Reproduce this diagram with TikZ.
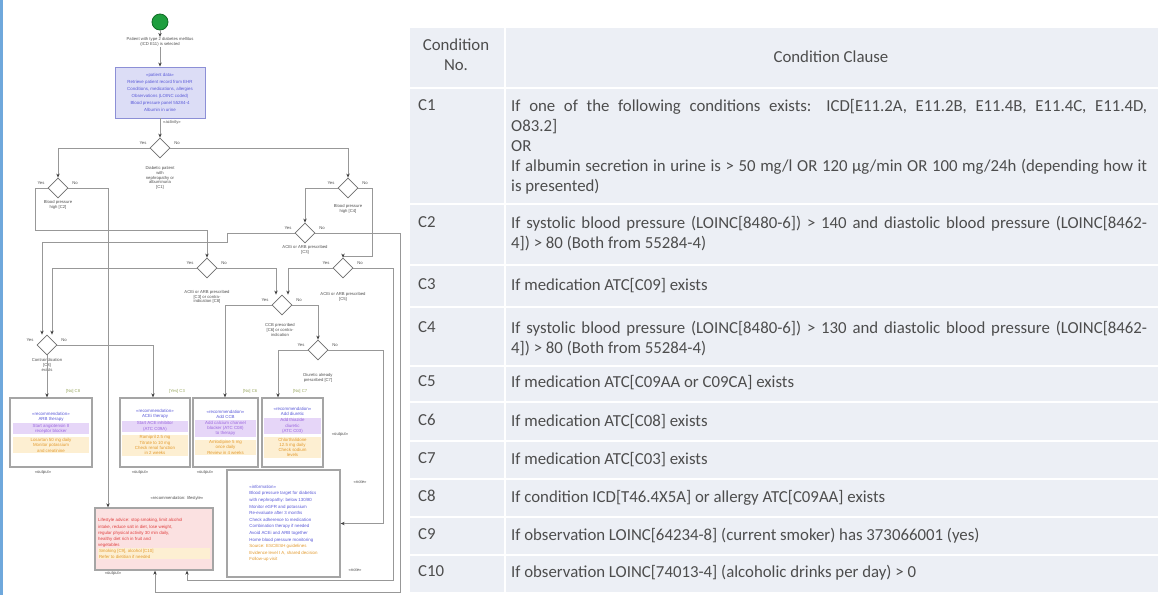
\documentclass[tikz,border=0pt]{standalone}
\usepackage{fontspec}
\setmainfont{Carlito}
\newfontfamily\flowfont{Liberation Sans}
\usetikzlibrary{shapes.geometric,arrows.meta}

\definecolor{tablebg}{HTML}{ECEFF5}
\definecolor{tabtext}{HTML}{4D4D4D}
\definecolor{edgeblue}{HTML}{6FA8DC}
\definecolor{wirec}{HTML}{989898}
\definecolor{decdraw}{HTML}{6E6E6E}
\definecolor{flowtext}{HTML}{505050}
\definecolor{startgreen}{HTML}{1E9E3E}
\definecolor{startrim}{HTML}{0F6B25}
\definecolor{patfill}{HTML}{DCDDF6}
\definecolor{patdraw}{HTML}{8C8FD6}
\definecolor{recblue}{HTML}{5A5AD8}
\definecolor{recpurple}{HTML}{9A66DE}
\definecolor{lavband}{HTML}{E6D6F8}
\definecolor{recorange}{HTML}{E39A2E}
\definecolor{yelband}{HTML}{FDEFD2}
\definecolor{boxdraw}{HTML}{A5A5A5}
\definecolor{redtext}{HTML}{E04040}
\definecolor{pinkfill}{HTML}{FBE1E1}
\definecolor{guardc}{HTML}{9AA860}

\setlength{\fboxsep}{0.8pt}
% body of a recommendation box: band width, title, purple lines, orange lines
\newcommand\recbody[4]{%
  \textcolor{recblue}{«recommendation»}\\
  \textcolor{recblue}{#2}\\[1pt]
  \colorbox{lavband}{\parbox{#1}{\centering\color{recpurple}#3}}\\[2pt]
  \colorbox{yelband}{\parbox{#1}{\centering\color{recorange}#4}}}

\begin{document}
\begin{tikzpicture}[x=1pt,y=-1pt,
  wire/.style={draw=wirec, line width=0.8pt},
  arr/.style={wire, -{Stealth[length=4pt,width=3.4pt,color=black!75]}},
  dec/.style={diamond, draw=decdraw, fill=white, line width=0.8pt,
    minimum width=20pt, minimum height=20pt, inner sep=0pt},
  ftext/.style={font=\flowfont\fontsize{4.2}{4.9}\selectfont, text=flowtext,
    align=center, inner sep=0.5pt},
  guard/.style={ftext, text=guardc},
  recbox/.style={draw=boxdraw, line width=1.3pt, fill=white, inner sep=1.5pt,
    align=center, font=\flowfont\fontsize{4.4}{5.3}\selectfont},
  tabcell/.style={font=\fontsize{16.8}{20}\selectfont, text=tabtext,
    inner sep=0pt, anchor=north west, align=left},
  tabhead/.style={font=\fontsize{16.8}{20}\selectfont, text=tabtext,
    inner sep=0pt, align=center},
  rowrule/.style={draw=white, line width=1.2pt}]

\useasboundingbox (0,0) rectangle (1161,595);
\fill[white] (0,0) rectangle (1161,595);
\fill[edgeblue] (0,0) rectangle (2.5,595);

% ---------------- condition table ----------------
\fill[tablebg] (410,28) rectangle (1158,592);
\foreach \yy in {88,204,265,307,366,402,441,479,517,555}
  \draw[rowrule] (410,\yy) -- (1158,\yy);
\draw[rowrule] (505,28) -- (505,592);

\node[tabhead] (hno) at (456,55) {Condition\\No.};
\node[tabhead] (hclause) at (831,57) {Condition Clause};

\node[tabcell] (c1no) at (418,99) {C1};
\node[tabcell] (c1tx) at (511,99)
 {\makebox[636pt][s]{If one of the following conditions exists: ICD[E11.2A, E11.2B, E11.4B, E11.4C, E11.4D,}\\
  O83.2]\\
  OR\\
  \makebox[636pt][s]{If albumin secretion in urine is > 50 mg/l OR 120 µg/min OR 100 mg/24h (depending how it}\\
  is presented)};

\node[tabcell] (c2no) at (418,216) {C2};
\node[tabcell] (c2tx) at (511,216)
 {\makebox[636pt][s]{If systolic blood pressure (LOINC[8480-6]) > 140 and diastolic blood pressure (LOINC[8462-}\\
  4]) > 80 (Both from 55284-4)};

\node[tabcell] (c3no) at (418,278) {C3};
\node[tabcell] (c3tx) at (511,278) {If medication ATC[C09] exists};

\node[tabcell] (c4no) at (418,321) {C4};
\node[tabcell] (c4tx) at (511,321)
 {\makebox[636pt][s]{If systolic blood pressure (LOINC[8480-6]) > 130 and diastolic blood pressure (LOINC[8462-}\\
  4]) > 80 (Both from 55284-4)};

\node[tabcell] (c5no) at (418,375) {C5};
\node[tabcell] (c5tx) at (511,375) {If medication ATC[C09AA or C09CA] exists};

\node[tabcell] (c6no) at (418,414) {C6};
\node[tabcell] (c6tx) at (511,414) {If medication ATC[C08] exists};

\node[tabcell] (c7no) at (418,452) {C7};
\node[tabcell] (c7tx) at (511,452) {If medication ATC[C03] exists};

\node[tabcell] (c8no) at (418,490) {C8};
\node[tabcell] (c8tx) at (511,490) {If condition ICD[T46.4X5A] or allergy ATC[C09AA] exists};

\node[tabcell] (c9no) at (418,528) {C9};
\node[tabcell] (c9tx) at (511,528) {If observation LOINC[64234-8] (current smoker) has 373066001 (yes)};

\node[tabcell] (c10no) at (418,565) {C10};
\node[tabcell] (c10tx) at (511,565) {If observation LOINC[74013-4] (alcoholic drinks per day) > 0};

% ---------------- activity flow ----------------
\node[circle, fill=startgreen, draw=startrim, line width=0.8pt, minimum size=16pt, inner sep=0pt] (start) at (160,22) {};
\node[ftext] (startlbl) at (160,42) {Patient with type 2 diabetes mellitus\\(ICD E11) is selected};

\node[draw=patdraw, fill=patfill, line width=0.9pt, minimum width=90pt, minimum height=51pt,
      align=center, inner sep=1pt, font=\flowfont\fontsize{4.4}{6.9}\selectfont, text=recblue] (pat) at (160,92.5)
 {«patient data»\\Retrieve patient record from EHR\\Conditions, medications, allergies\\Observations (LOINC coded)\\Blood pressure panel 55284-4\\Albumin in urine};
\node[ftext] (patlbl) at (172,122) {«activity»};

% decisions
\node[dec] (d1) at (160,148) {};
\node[dec] (d2) at (58,188) {};
\node[dec] (d3) at (348,188) {};
\node[dec] (d4) at (305,233) {};
\node[dec] (d5) at (343,268) {};
\node[dec] (d6) at (207,268) {};
\node[dec] (d7) at (282,305) {};
\node[dec] (d8) at (318,350) {};
\node[dec] (d9) at (47,345) {};

\node[ftext] (d1cap) at (160,178) {Diabetic patient\\with\\nephropathy or\\albuminuria\\{}[C1]};
\node[ftext] (d2cap) at (58,205) {Blood pressure\\high [C2]};
\node[ftext] (d3cap) at (348,209) {Blood pressure\\high [C4]};
\node[ftext] (d4cap) at (305,250) {ACEi or ARB prescribed\\{}[C3]};
\node[ftext] (d5cap) at (343,297) {ACEi or ARB prescribed\\{}[C5]};
\node[ftext] (d6cap) at (207,297) {ACEi or ARB prescribed\\{}[C3] or contra-\\indication [C8]};
\node[ftext] (d7cap) at (280,330) {CCB prescribed\\{}[C6] or contra-\\indication};
\node[ftext] (d8cap) at (318,378) {Diuretic already\\prescribed [C7]};
\node[ftext] (d9cap) at (47,365) {Contraindication\\{}[C8]\\exists};

% branch labels
\foreach \d in {d1,d2,d3,d4,d5,d6,d7,d8,d9}{
  \node[ftext] (\d yes) at ([xshift=-17pt,yshift=5pt]\d.center) {Yes};
  \node[ftext] (\d no) at ([xshift=17pt,yshift=5pt]\d.center) {No};
}

% recommendation boxes
\node[recbox, minimum width=82pt, minimum height=69pt] (r1) at (51,432.5)
 {\recbody{75pt}{ARB therapy}{Start angiotensin II\\receptor blocker}{Losartan 50 mg daily\\Monitor potassium\\and creatinine}};
\node[recbox, minimum width=70pt, minimum height=69pt] (r2) at (155,432.5)
 {\recbody{64pt}{ACEi therapy}{Start ACE inhibitor\\(ATC C09A)}{Ramipril 2.5 mg\\Titrate to 10 mg\\Check renal function\\in 2 weeks}};
\node[recbox, minimum width=65pt, minimum height=69pt] (r3) at (225.5,432.5)
 {\recbody{59pt}{Add CCB}{Add calcium channel\\blocker (ATC C08)\\to therapy}{Amlodipine 5 mg\\once daily\\Review in 4 weeks}};
\node[recbox, minimum width=61pt, minimum height=69pt] (r4) at (292.5,432.5)
 {\recbody{55pt}{Add diuretic}{Add thiazide\\diuretic\\(ATC C03)}{Chlorthalidone\\12.5 mg daily\\Check sodium\\levels}};

\node[guard] (g1) at (73,391) {[No] C8};
\node[guard] (g2) at (177,391) {[Yes] C3};
\node[guard] (g3) at (250,391) {[No] C6};
\node[guard] (g4) at (300,391) {[No] C7};
\node[ftext] (r1lbl) at (43,473) {«output»};
\node[ftext] (r2lbl) at (140,473) {«output»};
\node[ftext] (r3lbl) at (205,473) {«output»};
\node[ftext] (r4lbl) at (340,435) {«output»};

% lifestyle advice
\node[draw=boxdraw, fill=pinkfill, line width=1.3pt, minimum width=118pt, minimum height=62pt,
      align=left, inner sep=2pt, font=\flowfont\fontsize{4.4}{6.1}\selectfont, text=redtext] (red) at (154,539)
 {Lifestyle advice: stop smoking, limit alcohol\\intake, reduce salt in diet, lose weight,\\regular physical activity 30 min daily,\\healthy diet rich in fruit and\\vegetables\\
  \colorbox{yelband}{\parbox{110pt}{\color{recorange}Smoking [C9], alcohol [C10]\\Refer to dietitian if needed}}};
\node[ftext] (redtop) at (177,498) {«recommendation: lifestyle»};
\node[ftext] (redlbl) at (113,574) {«output»};

% information list
\node[draw=boxdraw, fill=white, line width=1.3pt, minimum width=113pt, minimum height=107pt,
      align=left, inner sep=2pt, font=\flowfont\fontsize{4.4}{6.6}\selectfont, text=recblue] (list) at (283.5,523.5)
 {«information»\\Blood pressure target for diabetics\\with nephropathy: below 130/80\\Monitor eGFR and potassium\\Re-evaluate after 3 months\\Check adherence to medication\\Combination therapy if needed\\Avoid ACEi and ARB together\\Home blood pressure monitoring\\
  \textcolor{recorange}{Source: ESC/ESH guidelines}\\\textcolor{recorange}{Evidence level I A, shared decision}\\\textcolor{recorange}{Follow-up visit}};
\node[ftext] (listlbl) at (360,482) {«note»};
\node[ftext] (listlbl2) at (355,570) {«note»};

% lanes for orthogonal connectors
\coordinate (xA) at (108,0);
\coordinate (xB) at (155,0);
\coordinate (xC) at (288,0);
\coordinate (xD) at (187,0);
\coordinate (xE) at (52,0);
\coordinate (xF) at (276,0);
\coordinate (xG) at (42,0);
\coordinate (xH) at (225,0);
\coordinate (xI) at (278,0);
\coordinate (xJ) at (383,0);
\coordinate (xK) at (153,0);
\coordinate (k1) at (35,230);
\coordinate (k2) at (372,256);
\coordinate (k3) at (400,592);
\coordinate (k4) at (393,580);
\coordinate (k5) at (227,242);

% connectors
\draw[arr] (start) -- (startlbl);
\draw[arr] (startlbl) -- (pat);
\draw[arr] (pat) -- (d1);
\draw[arr] (d1.west) -| (d2.north);
\draw[arr] (d1.east) -| (d3.north);
\draw[arr] (d2.east) -| (red.north -| xA);
\draw[arr] (d2.west) -| (k1) -| (d6.north);
\draw[arr] (d3.west) -| (d4.north);
\draw[arr] (d3.east) -| (k2) -| (d5.north);
\draw[arr] (d4.west) -| (k5) -| (d9.north -| xG);
\draw[arr] (d4.east) -| (k3) -| (red.south -| xB);
\draw[arr] (d5.west) -| (d7.north -| xC);
\draw[arr] (d5.east) -| (k4) -| (red.south -| xD);
\draw[arr] (d6.west) -| (d9.north -| xE);
\draw[arr] (d6.east) -| (d7.north -| xF);
\draw[arr] (d7.west) -| (r3.north -| xH);
\draw[arr] (d7.east) -| (d8.north);
\draw[arr] (d8.west) -| (r4.north -| xI);
\draw[arr] (d8.east) -| (list.east -| xJ) -- (list.east);
\draw[arr] (d9.east) -| (r2.north -| xK);
\draw[arr] (d9.south) -- (d9.south |- r1.north);
\end{tikzpicture}
\end{document}
